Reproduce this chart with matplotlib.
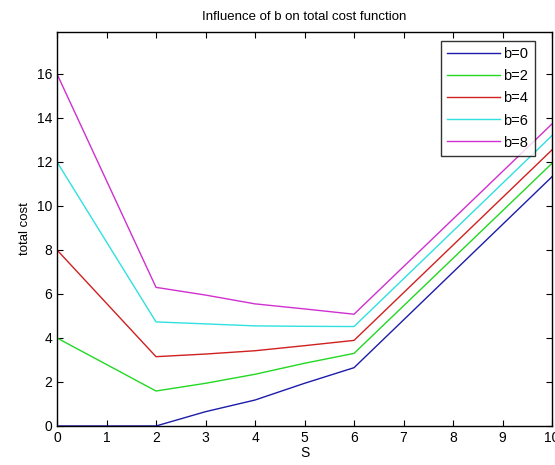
import matplotlib
matplotlib.use("Agg")
import matplotlib.pyplot as plt

# S values and total cost for each b
S = [0, 2, 3, 4, 5, 6, 10]
cost_b0 = [0, 0, 0.65, 1.18, 1.94, 2.65, 11.33]
cost_b2 = [4, 1.59, 1.94, 2.35, 2.85, 3.30, 11.94]
cost_b4 = [8, 3.15, 3.27, 3.42, 3.65, 3.89, 12.55]
cost_b6 = [12, 4.73, 4.64, 4.55, 4.53, 4.52, 13.20]
cost_b8 = [16, 6.30, 5.95, 5.55, 5.32, 5.08, 13.73]

labels = ["b=0", "b=2", "b=4", "b=6", "b=8"]
colors = ["#1c1caa", "#22d822", "#d02020", "#30e0e0", "#d030d0"]

plt.rcParams["font.family"] = ["Liberation Sans", "DejaVu Sans"]

fig = plt.figure(figsize=(5.55, 4.65), dpi=100)
ax = fig.add_axes([0.1027, 0.0839, 0.892, 0.847])

for ys, lab, col in zip([cost_b0, cost_b2, cost_b4, cost_b6, cost_b8], labels, colors):
    ax.plot(S, ys, color=col, linewidth=1.0, label=lab)

ax.set_xlim(0, 10)
ax.set_ylim(0, 17.9)
ax.set_xticks(range(0, 11))
ax.set_yticks(range(0, 17, 2))
ax.tick_params(direction="in", top=True, right=True, labelsize=10, length=4)
for sp in ax.spines.values():
    sp.set_linewidth(1.0)

ax.set_title("Influence of b on total cost function", fontsize=9.5, pad=9)
ax.set_xlabel("S", fontsize=10, labelpad=1)
ax.set_ylabel("total cost", fontsize=9.5, labelpad=4)

leg = ax.legend(loc="upper right", fontsize=10.5, frameon=True, fancybox=False,
                edgecolor="black", handlelength=3.6, borderaxespad=0.6,
                borderpad=0.45, labelspacing=0.55, handletextpad=0.25,
                bbox_to_anchor=(0.983, 1.0))
leg.get_frame().set_linewidth(1.0)

fig.savefig("out.png", dpi=100)
